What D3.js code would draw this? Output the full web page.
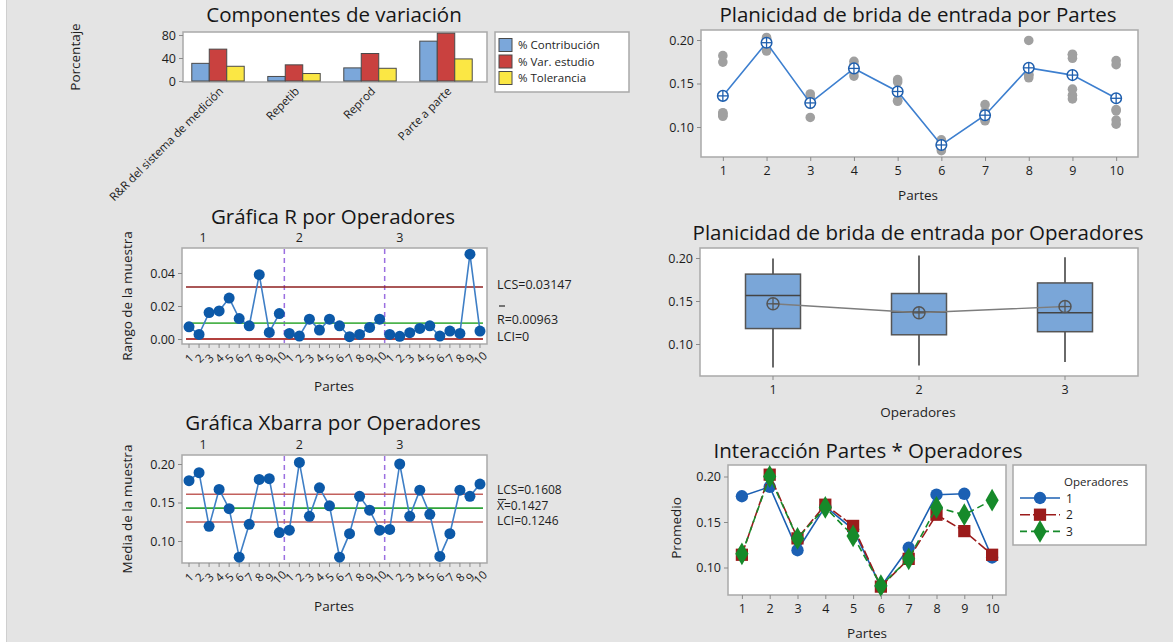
<!DOCTYPE html>
<html>
<head>
<meta charset="utf-8">
<script src="https://cdn.jsdelivr.net/npm/d3@7"></script>
<style>
  body { margin: 0; background: #e4e4e4; }
  svg text { font-family: "Open Sans", "Noto Sans", sans-serif; }
</style>
</head>
<body>
<svg id="chart" width="1173" height="642"></svg>
<script>
// ---------- Data ----------
const components = ["R&R del sistema de medición", "Repetib", "Reprod", "Parte a parte"];
const componentSeries = ["% Contribución", "% Var. estudio", "% Tolerancia"];
const pctContribution = [30.7, 7.9, 22.8, 69.3];
const pctStudyVar = [55.4, 28.1, 47.8, 83.2];
const pctTolerance = [25.6, 13.0, 22.1, 38.4];

const parts = [1, 2, 3, 4, 5, 6, 7, 8, 9, 10];
const operators = ["1", "2", "3"];

// Two readings (trial 1, trial 2) per part, one array per operator
const readingsOp1 = [
  [0.1746, 0.1820], [0.1873, 0.1901], [0.1110, 0.1270], [0.1585, 0.1755], [0.1296, 0.1544],
  [0.0728, 0.0852], [0.1177, 0.1257], [0.1605, 0.1995], [0.1790, 0.1830], [0.1033, 0.1187]
];
const readingsOp2 = [
  [0.1123, 0.1157], [0.2011, 0.2029], [0.1260, 0.1380], [0.1663, 0.1717], [0.1397, 0.1517],
  [0.0750, 0.0830], [0.1088, 0.1102], [0.1566, 0.1594], [0.1365, 0.1435], [0.1080, 0.1200]
];
const readingsOp3 = [
  [0.1136, 0.1164], [0.1992, 0.2008], [0.1301, 0.1339], [0.1628, 0.1692], [0.1307, 0.1387],
  [0.0791, 0.0809], [0.1071, 0.1119], [0.1643, 0.1677], [0.1323, 0.1837], [0.1716, 0.1764]
];

// Control limits: LCS, center, LCI
const rLimits = [0.03147, 0.00963, 0];
const xbarLimits = [0.1608, 0.1427, 0.1246];

const rTicks = [0, 0.02, 0.04];
const meanTicks = [0.10, 0.15, 0.20];
const pctTicks = [0, 40, 80];

// ---------- Derived statistics ----------
const readingsByOp = [readingsOp1, readingsOp2, readingsOp3];
const subgroups = [];
readingsByOp.forEach((ops, oi) => ops.forEach((pair, pi) => {
  subgroups.push({ op: oi, part: parts[pi], idx: oi * 10 + pi,
    mean: d3.mean(pair), range: Math.abs(pair[1] - pair[0]) });
}));
const partMeans = parts.map((p, pi) => d3.mean(readingsByOp.flatMap(ops => ops[pi])));

function mtbQuantile(sorted, p) {
  const pos = p * (sorted.length + 1);
  const i = Math.floor(pos), f = pos - i;
  if (i < 1) return sorted[0];
  if (i >= sorted.length) return sorted[sorted.length - 1];
  return sorted[i - 1] + f * (sorted[i] - sorted[i - 1]);
}
const boxStats = readingsByOp.map((ops, oi) => {
  const v = ops.flat().sort(d3.ascending);
  const q1 = mtbQuantile(v, 0.25), med = mtbQuantile(v, 0.5), q3 = mtbQuantile(v, 0.75);
  const iqr = q3 - q1;
  const lo = d3.min(v.filter(d => d >= q1 - 1.5 * iqr));
  const hi = d3.max(v.filter(d => d <= q3 + 1.5 * iqr));
  return { op: operators[oi], q1, med, q3, lo, hi, mean: d3.mean(v) };
});

// ---------- Drawing helpers ----------
const FONT = '"Open Sans", "Noto Sans", sans-serif';
const svg = d3.select("#chart");
svg.append("rect").attr("width", 1173).attr("height", 642).attr("fill", "#e4e4e4");
svg.append("rect").attr("width", 6).attr("height", 642).attr("fill", "#ffffff");
svg.append("line").attr("x1", 6.5).attr("x2", 6.5).attr("y1", 0).attr("y2", 642)
  .attr("stroke", "#cfcfcf");

function frame(f) {
  svg.append("rect").attr("x", f.l).attr("y", f.t).attr("width", f.r - f.l).attr("height", f.b - f.t)
    .attr("fill", "#ffffff").attr("stroke", "#a9a9a9").attr("stroke-width", 1.5);
}
function text(str, x, y, opts = {}) {
  const t = svg.append("text").attr("x", x).attr("y", y)
    .attr("text-anchor", opts.anchor || "middle")
    .attr("font-size", opts.size || 13.5)
    .attr("fill", opts.fill || "#1e1e1e")
    .text(str);
  if (opts.weight) t.attr("font-weight", opts.weight);
  if (opts.rotate) t.attr("transform", `rotate(${opts.rotate},${x},${y})`);
  return t;
}
function title(str, x, y) { return text(str, x, y, { size: 20.5, fill: "#161616", weight: 500 }); }
function styleAxis(g) {
  g.select(".domain").remove();
  g.selectAll(".tick line").attr("stroke", "#8a8a8a");
  g.selectAll(".tick text").attr("font-size", 12.5).attr("fill", "#1c1c1c").attr("font-family", FONT);
}
function yAxis(scale, x, ticks, fmt) {
  svg.append("g").attr("transform", `translate(${x},0)`)
    .call(d3.axisLeft(scale).tickValues(ticks).tickFormat(fmt).tickSize(4).tickPadding(3))
    .call(styleAxis);
}
function xAxis(scale, y, fmt) {
  svg.append("g").attr("transform", `translate(0,${y})`)
    .call(d3.axisBottom(scale).tickSize(4).tickPadding(5).tickFormat(fmt || null))
    .call(styleAxis);
}
function crossCircle(g, x, y, r, stroke, fill) {
  g.append("circle").attr("cx", x).attr("cy", y).attr("r", r)
    .attr("fill", fill).attr("stroke", stroke).attr("stroke-width", 1.5);
  g.append("line").attr("x1", x - r).attr("x2", x + r).attr("y1", y).attr("y2", y)
    .attr("stroke", stroke).attr("stroke-width", 1.3);
  g.append("line").attr("x1", x).attr("x2", x).attr("y1", y - r).attr("y2", y + r)
    .attr("stroke", stroke).attr("stroke-width", 1.3);
}

// ---------- Panel 1: Componentes de variación ----------
{
  const f = { l: 183, r: 487, t: 32, b: 82 };
  title("Componentes de variación", 334, 22);
  text("Porcentaje", 80, 57, { rotate: -90, size: 13.5 });
  frame(f);
  const x0 = d3.scaleBand().domain(components).range([180, 484]).paddingInner(0.31).paddingOuter(0.155);
  const x1 = d3.scaleBand().domain(componentSeries).range([0, x0.bandwidth()]);
  const y = d3.scaleLinear().domain([0, 80]).range([81, 35]);
  const colors = ["#7ba7da", "#c9413f", "#fbe744"];
  const seriesVals = [pctContribution, pctStudyVar, pctTolerance];
  const g = svg.append("g");
  components.forEach((c, ci) => {
    componentSeries.forEach((s, si) => {
      const v = seriesVals[si][ci];
      g.append("rect").attr("x", x0(c) + x1(s)).attr("y", y(v))
        .attr("width", x1.bandwidth()).attr("height", y(0) - y(v))
        .attr("fill", colors[si]).attr("stroke", "#4a4a4a").attr("stroke-width", 1);
    });
  });
  yAxis(y, f.l, pctTicks, d3.format("d"));
  // rotated category labels
  components.forEach(c => {
    const cx = x0(c) + x0.bandwidth() / 2 + 6, cy = 92;
    svg.append("text").attr("x", cx).attr("y", cy).attr("text-anchor", "end")
      .attr("font-size", 11.5).attr("fill", "#1e1e1e")
      .attr("transform", `rotate(-45,${cx},${cy})`).text(c);
  });
  // legend
  const lg = svg.append("g");
  lg.append("rect").attr("x", 495).attr("y", 32).attr("width", 134).attr("height", 60)
    .attr("fill", "#ffffff").attr("stroke", "#a9a9a9").attr("stroke-width", 1.5);
  componentSeries.forEach((s, si) => {
    const yy = 45 + si * 16.5;
    lg.append("rect").attr("x", 499).attr("y", yy - 6.5).attr("width", 13).attr("height", 13)
      .attr("fill", colors[si]).attr("stroke", "#4a4a4a");
    lg.append("text").attr("x", 518).attr("y", yy + 4).attr("font-size", 11.5)
      .attr("fill", "#1e1e1e").text(s);
  });
}

// ---------- Shared pieces for the operator control charts ----------
const opGroupColor = "#9b6fe0";
function controlChart(cfg) {
  const f = cfg.frame;
  title(cfg.title, 333, cfg.titleY);
  text(cfg.yLabel, 132, (f.t + f.b) / 2, { rotate: -90 });
  text("Partes", 334, cfg.xLabelY);
  frame(f);
  const x = d3.scalePoint().domain(d3.range(30)).range([f.l, f.r]).padding(0.7);
  const y = d3.scaleLinear().domain(cfg.yDomain).range(cfg.yRange);
  // operator group labels and separators
  operators.forEach((op, oi) => {
    text(op, x(oi * 10 + 1) + (oi === 0 ? 4 : 0), f.t - 6, { size: 12.5 });
    if (oi > 0) {
      const sx = (x(oi * 10 - 1) + x(oi * 10)) / 2;
      svg.append("line").attr("x1", sx).attr("x2", sx).attr("y1", f.t + 1).attr("y2", f.b - 1)
        .attr("stroke", opGroupColor).attr("stroke-width", 1.5).attr("stroke-dasharray", "5,4");
    }
  });
  // control lines
  const lineColors = cfg.limitColors;
  cfg.limits.forEach((v, i) => {
    svg.append("line").attr("x1", x(0) - 3).attr("x2", x(29) + 3)
      .attr("y1", y(v)).attr("y2", y(v))
      .attr("stroke", lineColors[i]).attr("stroke-width", i === 2 && cfg.thickLower ? 2.2 : 1.6);
  });
  // series, broken between operators
  const line = d3.line().x(d => x(d.idx)).y(d => y(d[cfg.key]));
  operators.forEach((op, oi) => {
    svg.append("path").datum(subgroups.filter(d => d.op === oi))
      .attr("d", line).attr("fill", "none").attr("stroke", "#3f7fc6").attr("stroke-width", 1.6);
  });
  svg.append("g").selectAll("circle").data(subgroups).join("circle")
    .attr("cx", d => x(d.idx)).attr("cy", d => y(d[cfg.key])).attr("r", 5.5)
    .attr("fill", "#0c59a8");
  yAxis(y, f.l, cfg.ticks, d3.format(".2f"));
  // bottom ticks with rotated part numbers
  const bt = svg.append("g");
  subgroups.forEach(d => {
    bt.append("line").attr("x1", x(d.idx)).attr("x2", x(d.idx)).attr("y1", f.b).attr("y2", f.b + 4)
      .attr("stroke", "#8a8a8a");
    const lx = x(d.idx), ly = f.b + 14;
    bt.append("text").attr("x", lx).attr("y", ly).attr("text-anchor", "middle")
      .attr("dominant-baseline", "central").attr("font-size", 11.5).attr("fill", "#1c1c1c")
      .attr("transform", `rotate(-45,${lx},${ly})`).text(d.part);
  });
  return { x, y };
}

// ---------- Panel: Gráfica R por Operadores ----------
{
  const f = { l: 182, r: 487, t: 248, b: 344 };
  controlChart({
    frame: f, title: "Gráfica R por Operadores", titleY: 224, yLabel: "Rango de la muestra",
    xLabelY: 391, yDomain: [0, 0.04], yRange: [339, 273], ticks: rTicks, key: "range",
    limits: rLimits, limitColors: ["#8e1f1f", "#4db34d", "#b2403e"], thickLower: true
  });
  text("LCS=" + rLimits[0], 497, 289, { anchor: "start", size: 12.5 });
  svg.append("line").attr("x1", 499).attr("x2", 505).attr("y1", 306).attr("y2", 306)
    .attr("stroke", "#2a2a2a").attr("stroke-width", 1.2);
  text("R=" + rLimits[1], 497, 324, { anchor: "start", size: 12.5 });
  text("LCI=" + rLimits[2], 497, 341, { anchor: "start", size: 12.5 });
}

// ---------- Panel: Gráfica Xbarra por Operadores ----------
{
  const f = { l: 182, r: 487, t: 455, b: 563 };
  controlChart({
    frame: f, title: "Gráfica Xbarra por Operadores", titleY: 430, yLabel: "Media de la muestra",
    xLabelY: 611, yDomain: [0.10, 0.20], yRange: [541, 464], ticks: meanTicks, key: "mean",
    limits: xbarLimits, limitColors: ["#c2605d", "#2fa33a", "#c2605d"], thickLower: false
  });
  text("LCS=" + xbarLimits[0], 497, 494, { anchor: "start", size: 12 });
  svg.append("line").attr("x1", 498).attr("x2", 506).attr("y1", 499.5).attr("y2", 499.5)
    .attr("stroke", "#2a2a2a").attr("stroke-width", 1.1);
  text("X=" + xbarLimits[1], 497, 509.5, { anchor: "start", size: 12 });
  text("LCI=" + xbarLimits[2], 497, 525, { anchor: "start", size: 12 });
}

// ---------- Panel: Planicidad por Partes ----------
{
  const f = { l: 701, r: 1138, t: 30, b: 157 };
  title("Planicidad de brida de entrada por Partes", 918, 22);
  frame(f);
  const x = d3.scalePoint().domain(parts).range([f.l, f.r]).padding(0.5);
  const y = d3.scaleLinear().domain([0.10, 0.20]).range([127, 40]);
  const dots = readingsByOp.flatMap(ops => ops.flatMap((pair, pi) => pair.map(v => ({ part: parts[pi], v }))));
  svg.append("g").selectAll("circle").data(dots).join("circle")
    .attr("cx", d => x(d.part)).attr("cy", d => y(d.v)).attr("r", 4.8).attr("fill", "#a0a0a0");
  svg.append("path").datum(partMeans)
    .attr("d", d3.line().x((d, i) => x(parts[i])).y(d => y(d)))
    .attr("fill", "none").attr("stroke", "#3d7fcf").attr("stroke-width", 1.6);
  const mg = svg.append("g");
  partMeans.forEach((m, i) => crossCircle(mg, x(parts[i]), y(m), 5.3, "#1f5fae", "#ffffff"));
  yAxis(y, f.l, meanTicks, d3.format(".2f"));
  xAxis(x, f.b);
  text("Partes", 918, 200);
}

// ---------- Panel: Planicidad por Operadores ----------
{
  const f = { l: 700, r: 1138, t: 248, b: 376 };
  title("Planicidad de brida de entrada por Operadores", 918, 240);
  frame(f);
  const x = d3.scaleBand().domain(operators).range([f.l, f.r]);
  const y = d3.scaleLinear().domain([0.10, 0.20]).range([344, 258]);
  const bw = 55;
  const g = svg.append("g");
  boxStats.forEach(s => {
    const cx = x(s.op) + x.bandwidth() / 2;
    g.append("line").attr("x1", cx).attr("x2", cx).attr("y1", y(s.hi)).attr("y2", y(s.q3))
      .attr("stroke", "#6a6a6a").attr("stroke-width", 2);
    g.append("line").attr("x1", cx).attr("x2", cx).attr("y1", y(s.q1)).attr("y2", y(s.lo))
      .attr("stroke", "#6a6a6a").attr("stroke-width", 2);
    g.append("rect").attr("x", cx - bw / 2).attr("y", y(s.q3)).attr("width", bw)
      .attr("height", y(s.q1) - y(s.q3)).attr("fill", "#7aa6d8")
      .attr("stroke", "#555555").attr("stroke-width", 1.5);
    g.append("line").attr("x1", cx - bw / 2).attr("x2", cx + bw / 2)
      .attr("y1", y(s.med)).attr("y2", y(s.med)).attr("stroke", "#444444").attr("stroke-width", 1.5);
  });
  g.append("path").datum(boxStats)
    .attr("d", d3.line().x(s => x(s.op) + x.bandwidth() / 2).y(s => y(s.mean)))
    .attr("fill", "none").attr("stroke", "#7d7d7d").attr("stroke-width", 1.4);
  boxStats.forEach(s => crossCircle(g, x(s.op) + x.bandwidth() / 2, y(s.mean), 6, "#555555", "none"));
  yAxis(y, f.l, meanTicks, d3.format(".2f"));
  xAxis(x, f.b);
  text("Operadores", 918, 417);
}

// ---------- Panel: Interacción Partes * Operadores ----------
{
  const f = { l: 728, r: 1006, t: 465, b: 595 };
  title("Interacción Partes * Operadores", 868, 458);
  text("Promedio", 681, 528, { rotate: -90 });
  frame(f);
  const x = d3.scalePoint().domain(parts).range([f.l, f.r]).padding(0.5);
  const y = d3.scaleLinear().domain([0.10, 0.20]).range([567.5, 476.5]);
  const opColors = ["#1c60b3", "#9b1b1b", "#168a2a"];
  const opDash = [null, "10,3", "7,4"];
  const sym = [d3.symbolCircle, d3.symbolSquare, d3.symbolDiamond];
  const symSize = [120, 150, 150];
  const g = svg.append("g");
  operators.forEach((op, oi) => {
    const data = subgroups.filter(d => d.op === oi);
    g.append("path").datum(data)
      .attr("d", d3.line().x(d => x(d.part)).y(d => y(d.mean)))
      .attr("fill", "none").attr("stroke", opColors[oi]).attr("stroke-width", 1.6)
      .attr("stroke-dasharray", opDash[oi]);
    g.selectAll(null).data(data).join("path")
      .attr("transform", d => `translate(${x(d.part)},${y(d.mean)})`)
      .attr("d", d3.symbol().type(sym[oi]).size(symSize[oi]))
      .attr("fill", opColors[oi]);
  });
  yAxis(y, f.l, meanTicks, d3.format(".2f"));
  xAxis(x, f.b);
  text("Partes", 867, 638);
  // legend
  const lg = svg.append("g");
  lg.append("rect").attr("x", 1013).attr("y", 465).attr("width", 133).attr("height", 80)
    .attr("fill", "#ffffff").attr("stroke", "#a9a9a9").attr("stroke-width", 1.5);
  lg.append("text").attr("x", 1064).attr("y", 486).attr("font-size", 11.5).attr("fill", "#1e1e1e")
    .text("Operadores");
  operators.forEach((op, oi) => {
    const yy = 498 + oi * 16.7;
    lg.append("line").attr("x1", 1020).attr("x2", 1060).attr("y1", yy).attr("y2", yy)
      .attr("stroke", opColors[oi]).attr("stroke-width", 1.6).attr("stroke-dasharray", opDash[oi]);
    lg.append("path").attr("transform", `translate(1040,${yy})`)
      .attr("d", d3.symbol().type(sym[oi]).size(symSize[oi])).attr("fill", opColors[oi]);
    lg.append("text").attr("x", 1066).attr("y", yy + 4.5).attr("font-size", 12)
      .attr("fill", "#1e1e1e").text(op);
  });
}
</script>
</body>
</html>
